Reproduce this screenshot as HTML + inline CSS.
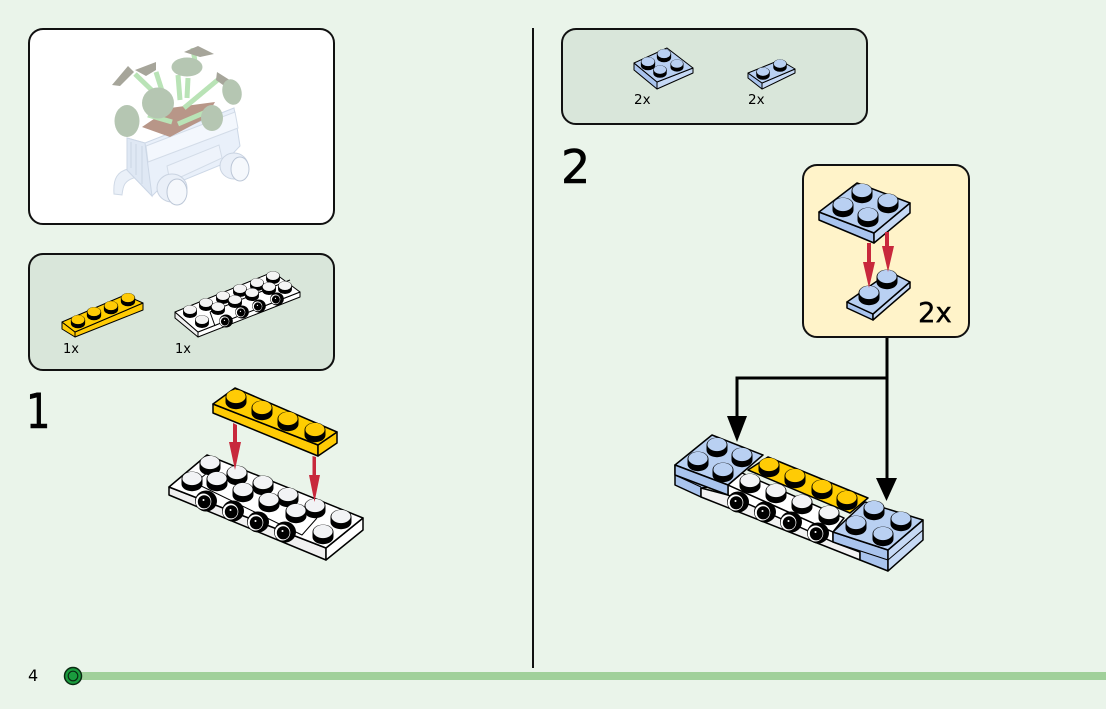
<!DOCTYPE html>
<html><head><meta charset="utf-8"><style>
html,body{margin:0;padding:0;background:#eaf4ea;width:1106px;height:709px;overflow:hidden}
svg{display:block}
text{font-family:"DejaVu Sans",sans-serif;fill:#000}
.o{stroke:#000;stroke-width:1.5;stroke-linejoin:round}
.t{stroke:#000;stroke-width:1;stroke-linejoin:round}
</style></head><body>
<svg width="1106" height="709" viewBox="0 0 1106 709" xmlns="http://www.w3.org/2000/svg">
<defs>
<g id="s"><path d="M-10.500 0V5A10.500 7.200 0 0 0 10.500 5V0Z" fill="#000"/><ellipse cx="0" cy="0" rx="10.500" ry="7.400" fill="#000"/><ellipse cx="0" cy="-.5" rx="9.600" ry="6.600" fill="currentColor"/></g>
<g id="c"><ellipse cx="0" cy="0" rx="11" ry="10.500" fill="#000"/><ellipse cx="-2.500" cy="0.500" rx="7.800" ry="8" fill="#fff"/><ellipse cx="-1.800" cy="0.800" rx="6.400" ry="6.600" fill="#000"/><circle cx="-2.500" cy="-1" r="1" fill="#fff"/></g>
</defs>
<rect width="1106" height="709" fill="#eaf4ea"/>

<!-- panels -->
<rect x="29" y="29" width="305" height="195" rx="14" fill="#fff" stroke="#111" stroke-width="2"/>
<rect x="29" y="254" width="305" height="116" rx="14" fill="#d9e6da" stroke="#111" stroke-width="2"/>
<rect x="562" y="29" width="305" height="95" rx="14" fill="#d9e6da" stroke="#111" stroke-width="2"/>
<line x1="533" y1="28" x2="533" y2="668" stroke="#111" stroke-width="2"/>

<!-- ghost model -->
<g>
<path d="M133 168C116 170 113 180 114 194L122 195C123 186 124 180 137 177Z" fill="#eaf0f8" stroke="#cfd9e6"/>
<path d="M127 138L145 143L234 108L240 146L223 164L157 191L152 196L127 170Z" fill="#e9f0fa" stroke="#ccd7e6"/>
<path d="M146 146L235 112L238 128L148 162Z" fill="#f3f7fd" stroke="#d3dce8"/>
<path d="M167 166L219 145L222 158L170 182Z" fill="#eef3fb" stroke="#d3dce8"/>
<path d="M127 138L145 143L152 196L127 170Z" fill="#dfe8f4" stroke="#ccd7e6"/>
<path d="M131 142V168M136 144V175M142 146V184" stroke="#cbd6e5" fill="none"/>
<ellipse cx="172" cy="188" rx="15" ry="14" fill="#e9eff8" stroke="#c9d3e1"/>
<ellipse cx="177" cy="192" rx="10" ry="13" fill="#f5f8fc" stroke="#bcc7d7"/>
<ellipse cx="234" cy="166" rx="14" ry="13" fill="#e9eff8" stroke="#c9d3e1"/>
<ellipse cx="240" cy="169" rx="9" ry="12" fill="#f5f8fc" stroke="#bcc7d7"/>
<polygon points="142,127 170,137 206,118 215,102 170,108" fill="#b89688"/>
<g stroke="#b9e3b6" stroke-width="5" fill="none">
<line x1="162" y1="100" x2="135" y2="74"/><line x1="165" y1="100" x2="156" y2="72"/>
<line x1="180" y1="100" x2="178" y2="75"/><line x1="187" y1="98" x2="188" y2="78"/>
<line x1="184" y1="108" x2="220" y2="78"/><line x1="178" y1="124" x2="206" y2="112"/><line x1="148" y1="115" x2="172" y2="122"/>
<line x1="193" y1="48" x2="195" y2="62"/>
</g>
<g fill="#a6a59a">
<path d="M112 85L128 66L134 72L120 86Z"/><path d="M135 70L156 62L156 70L146 76Z"/>
<path d="M184 52L198 46L214 54L200 57Z"/><path d="M217 72L236 84L230 90L216 80Z"/>
</g>
<g fill="#b5c6b2">
<ellipse cx="127" cy="121" rx="12.500" ry="16"/><ellipse cx="158" cy="103" rx="16" ry="15.500"/>
<ellipse cx="187" cy="67" rx="15.500" ry="9.500"/><ellipse cx="212" cy="118" rx="11" ry="13"/>
<ellipse cx="232" cy="92" rx="9.500" ry="13" transform="rotate(-15 232 92)"/>
</g>
</g>

<!-- palette 1 -->
<polygon class="t" points="62,322 62,329 75,337 75,332" fill="#ffcb05"/>
<polygon class="t" points="75,332 75,337 143,310 143,303" fill="#ffcb05"/>
<polygon class="t" points="62,322 125,295 143,303 75,332" fill="#ffcd00"/>
<g color="#ffcb05">
<use href="#s" transform="translate(78,320) scale(.68)"/><use href="#s" transform="translate(94,312) scale(.68)"/>
<use href="#s" transform="translate(111,306) scale(.68)"/><use href="#s" transform="translate(128,298) scale(.68)"/>
</g>
<polygon class="t" points="175,312 175,318 198,337 198,332" fill="#f0f0f0"/>
<polygon class="t" points="198,332 198,337 300,297 300,292" fill="#fff"/>
<polygon class="t" points="175,312 273,272 300,292 198,332" fill="#fff"/>
<path class="t" d="M210 312L215 326M210 312L290 280" fill="none"/>
<g color="#f4f4f4">
<use href="#s" transform="translate(190,310) scale(.66)"/><use href="#s" transform="translate(206,303) scale(.66)"/><use href="#s" transform="translate(223,296) scale(.66)"/>
<use href="#s" transform="translate(240,289) scale(.66)"/><use href="#s" transform="translate(257,283) scale(.66)"/><use href="#s" transform="translate(273,276) scale(.66)"/>
<use href="#s" transform="translate(285,286) scale(.66)"/><use href="#s" transform="translate(269,287) scale(.66)"/><use href="#s" transform="translate(252,293) scale(.66)"/>
<use href="#s" transform="translate(235,300) scale(.66)"/><use href="#s" transform="translate(218,307) scale(.66)"/><use href="#s" transform="translate(202,320) scale(.66)"/>
</g>
<use href="#c" transform="translate(226,321) scale(.62)"/><use href="#c" transform="translate(242,312) scale(.62)"/>
<use href="#c" transform="translate(259,306) scale(.62)"/><use href="#c" transform="translate(277,299) scale(.62)"/>
<text x="63" y="353" font-size="13">1x</text><text x="175" y="353" font-size="13">1x</text>

<!-- step 1 -->
<text transform="translate(26,428) scale(.8,1)" font-size="48" stroke="#000" stroke-width=".6">1</text>
<polygon class="o" points="169,487 169,495 326,560 326,548" fill="#f0f0f0"/>
<polygon class="o" points="326,548 326,560 363,530 363,518" fill="#fff"/>
<polygon class="o" points="169,487 207,455 363,518 326,548" fill="#fff"/>
<path class="t" d="M195 483L302 535L317 518M195 483L207 473M195 483L195 490" fill="none"/>
<g color="#f2f3f5">
<use href="#s" transform="translate(210,463)"/><use href="#s" transform="translate(192,479)"/><use href="#s" transform="translate(237,473)"/>
<use href="#s" transform="translate(217,479)"/><use href="#s" transform="translate(263,483)"/><use href="#s" transform="translate(243,490)"/>
<use href="#s" transform="translate(288,495)"/><use href="#s" transform="translate(269,500)"/><use href="#s" transform="translate(315,506)"/>
<use href="#s" transform="translate(296,511)"/><use href="#s" transform="translate(341,517)"/><use href="#s" transform="translate(323,532)"/>
</g>
<use href="#c" transform="translate(206,501)"/><use href="#c" transform="translate(233,511)"/>
<use href="#c" transform="translate(258,522)"/><use href="#c" transform="translate(285,532)"/>
<polygon class="o" points="213,404 213,413 318,456 318,445" fill="#ffcb05"/>
<polygon class="o" points="318,445 318,456 337,443 337,432" fill="#ffcb05"/>
<polygon class="o" points="213,404 235,388 337,432 318,445" fill="#ffcd00"/>
<g color="#ffcb05">
<use href="#s" transform="translate(236,397)"/><use href="#s" transform="translate(262,408)"/>
<use href="#s" transform="translate(288,419)"/><use href="#s" transform="translate(315,430)"/>
</g>
<g fill="#c8283c" stroke="none">
<polygon points="233,423 237,425 237,442 241,442 235,470 229,442 233,442"/>
<polygon points="312.500,456 316,457 316,475 320,475 314.500,502 309,475 312.500,475"/>
</g>

<!-- palette 2 -->
<polygon class="t" points="634,63 634,70 657,89 657,82" fill="#a9c4ee"/>
<polygon class="t" points="657,82 657,89 693,73 693,68" fill="#c6d9f5"/>
<polygon class="t" points="634,63 667,48 693,68 657,82" fill="#b9d0f2"/>
<g color="#b9d0f2">
<use href="#s" transform="translate(664,54) scale(.68)"/><use href="#s" transform="translate(648,62) scale(.68)"/>
<use href="#s" transform="translate(677,64) scale(.62)"/><use href="#s" transform="translate(660,70) scale(.64)"/>
</g>
<polygon class="t" points="748,73 748,78 762,89 762,83" fill="#a9c4ee"/>
<polygon class="t" points="762,83 762,89 795,73 795,69" fill="#c6d9f5"/>
<polygon class="t" points="748,73 780,60 795,69 762,83" fill="#b9d0f2"/>
<g color="#b9d0f2">
<use href="#s" transform="translate(763,72) scale(.64)"/><use href="#s" transform="translate(780,64) scale(.64)"/>
</g>
<text x="634" y="104" font-size="13.500">2x</text><text x="748" y="104" font-size="13.500">2x</text>

<!-- step 2 -->
<text x="561" y="183" font-size="46" stroke="#000" stroke-width=".6">2</text>

<!-- connectors -->
<path d="M887 337V480M887 378H737V420" fill="none" stroke="#000" stroke-width="3"/>
<polygon points="876,478 897,478 886.500,501" fill="#000"/>
<polygon points="727,416 747,416 737,442" fill="#000"/>

<!-- callout -->
<rect x="803" y="165" width="166" height="172" rx="14" fill="#fff3c9" stroke="#111" stroke-width="2"/>
<polygon class="o" points="847,302 847,308 873,320 873,314" fill="#a9c4ee"/>
<polygon class="o" points="873,314 873,320 910,288 910,282" fill="#c6d9f5"/>
<polygon class="o" points="847,302 890,272 910,282 873,314" fill="#b9d0f2"/>
<g color="#b9d0f2"><use href="#s" transform="translate(887,277)"/><use href="#s" transform="translate(869,293)"/></g>
<polygon class="o" points="819,212 819,220 874,243 874,233" fill="#a9c4ee"/>
<polygon class="o" points="874,233 874,243 910,213 910,203" fill="#c6d9f5"/>
<polygon class="o" points="819,212 857,183 910,203 874,233" fill="#b9d0f2"/>
<g color="#b9d0f2">
<use href="#s" transform="translate(862,191)"/><use href="#s" transform="translate(843,205)"/>
<use href="#s" transform="translate(888,201)"/><use href="#s" transform="translate(868,215)"/>
</g>
<g fill="#c8283c">
<polygon points="867,243 871,243 871,262 875,262 869,288 863,262 867,262"/>
<polygon points="885,232 889,232 889,246 894,246 888,272 882,246 885,246"/>
</g>
<text x="918" y="322" font-size="27.500" stroke="#000" stroke-width=".4">2x</text>

<!-- assembly -->
<polygon class="o" points="675,465 675,485 701,497 701,488 728,485" fill="#a9c4ee"/>
<path class="t" d="M675 475L701 487" fill="none"/>
<polygon class="o" points="701,488 701,497 860,560 860,552 728,495" fill="#f2f2f2"/>
<polygon class="o" points="728,485 728,495 833,542 833,532" fill="#fff"/>
<polygon class="o" points="748,470 768,457 868,498 850,513" fill="#ffcd00"/>
<polygon class="o" points="728,485 742,473 844,518 833,532" fill="#fff"/>
<polygon class="o" points="675,465 712,435 763,455 728,485" fill="#b9d0f2"/>
<polygon class="o" points="675,465 675,475 728,495 728,485" fill="#a9c4ee"/>
<polygon class="o" points="833,532 833,542 860,552 860,560 888,571 888,550" fill="#a9c4ee"/>
<path class="t" d="M833 542L888 560" fill="none"/>
<polygon class="o" points="888,550 888,571 923,540 923,520" fill="#c6d9f5"/>
<path class="t" d="M888 560L923 530" fill="none"/>
<polygon class="o" points="833,532 865,502 923,520 888,550" fill="#b9d0f2"/>
<g color="#b9d0f2">
<use href="#s" transform="translate(717,445)"/><use href="#s" transform="translate(698,459)"/>
<use href="#s" transform="translate(742,455)"/><use href="#s" transform="translate(723,470)"/>
<use href="#s" transform="translate(874,508)"/><use href="#s" transform="translate(856,523)"/>
<use href="#s" transform="translate(901,519)"/><use href="#s" transform="translate(883,534)"/>
</g>
<g color="#ffcb05">
<use href="#s" transform="translate(769,465)"/><use href="#s" transform="translate(795,476)"/>
<use href="#s" transform="translate(822,487)"/><use href="#s" transform="translate(847,498)"/>
</g>
<g color="#f2f3f5">
<use href="#s" transform="translate(750,481)"/><use href="#s" transform="translate(776,491)"/>
<use href="#s" transform="translate(802,502)"/><use href="#s" transform="translate(829,513)"/>
</g>
<use href="#c" transform="translate(738,502)"/><use href="#c" transform="translate(765,512)"/>
<use href="#c" transform="translate(791,522)"/><use href="#c" transform="translate(818,533)"/>

<!-- footer -->
<text x="28" y="681" font-size="16">4</text>
<rect x="80" y="672" width="1026" height="8" fill="#a0d09a"/>
<circle cx="73" cy="676" r="8.500" fill="#1a9c3e" stroke="#0a2a12" stroke-width="1.500"/>
<circle cx="73" cy="676" r="4.800" fill="none" stroke="#0a2a12" stroke-width="1.200"/>
</svg>
</body></html>
